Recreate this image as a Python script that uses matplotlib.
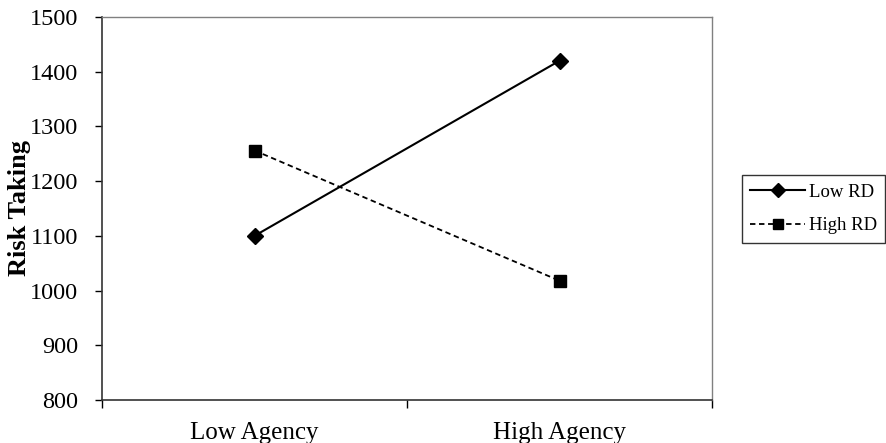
import numpy as np
import matplotlib.pyplot as plt

plt.rcParams['font.family'] = ['Liberation Serif', 'DejaVu Serif']

categories = ['Low Agency', 'High Agency']
low_rd = [1100, 1420]
high_rd = [1256, 1018]
y_ticks = [800, 900, 1000, 1100, 1200, 1300, 1400, 1500]

fig = plt.figure(figsize=(8.87, 4.43), dpi=100)
ax = fig.add_axes([102 / 887, 43 / 443, 610 / 887, 383 / 443])

x = np.arange(len(categories))
ax.plot(x, low_rd, 'k-', marker='D', markersize=8, linewidth=1.5, label='Low RD')
ax.plot(x, high_rd, 'k--', marker='s', markersize=8, linewidth=1.3,
        dashes=(3, 2), label='High RD')

ax.set_xlim(-0.5, 1.5)
ax.set_ylim(800, 1500)
ax.set_yticks(y_ticks)
ax.tick_params(axis='y', labelsize=17.5, direction='out', length=5, width=1, pad=12)

# category labels in the middle, tick marks between categories
ax.set_xticks(x)
ax.set_xticklabels(categories, fontsize=18)
ax.tick_params(axis='x', which='major', length=0, pad=16)
ax.set_xticks([-0.5, 0.5, 1.5], minor=True)
ax.tick_params(axis='x', which='minor', direction='out', length=6, width=1)

ax.set_ylabel('Risk Taking', fontsize=19, fontweight='bold', labelpad=-1)

for side in ['left', 'bottom']:
    ax.spines[side].set_color('#333333')
    ax.spines[side].set_linewidth(1.2)
for side in ['top', 'right']:
    ax.spines[side].set_color('#808080')
    ax.spines[side].set_linewidth(1)

leg = fig.legend(loc='center left', bbox_to_anchor=(742 / 887, 1 - 209 / 443),
                 fontsize=13.5, frameon=True, fancybox=False, edgecolor='black',
                 handlelength=2.9, borderpad=0.45, borderaxespad=0,
                 labelspacing=0.85, handletextpad=0.2, markerscale=0.85)
leg.get_frame().set_linewidth(1)

fig.savefig('out.png', dpi=100)
